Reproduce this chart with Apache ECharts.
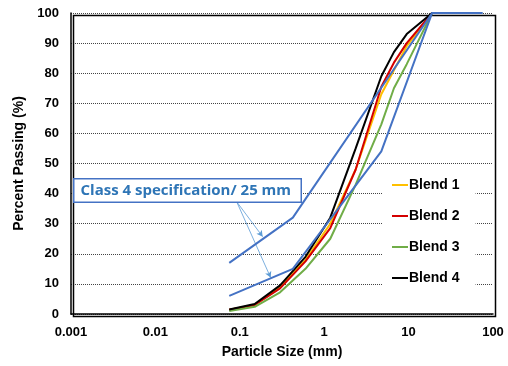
<!DOCTYPE html>
<html>
<head>
<meta charset="utf-8">
<script src="https://cdn.jsdelivr.net/npm/echarts@6/dist/echarts.min.js"></script>
<style>
html,body{margin:0;padding:0;background:#fff;}
#chart{width:508px;height:366px;}
</style>
</head>
<body>
<div id="chart"></div>
<script>
// Sieve sizes (mm)
var sieves = [0.075, 0.15, 0.3, 0.6, 1.18, 2.36, 4.75, 6.7, 9.5, 19];
// Percent passing per blend
var blend1 = [1.4, 3.0, 9.0, 18, 30, 48, 73, 81, 89, 100];
var blend2 = [1.4, 3.0, 8.5, 17.5, 28.5, 48, 75.5, 83.5, 90, 100];
var blend3 = [1.0, 2.4, 7.2, 15, 25, 43, 63, 75, 83, 100];
var blend4 = [1.5, 3.3, 9.5, 19, 32, 55, 79, 87, 93, 100];
// Class 4 specification bands
var specSizes = [0.075, 0.425, 4.75, 19, 75];
var specUpperSizes = [0.075, 0.425, 19, 75];
var specUpper = [17, 32, 100, 100];
var specLower = [6, 15, 54, 100, 100];
// Axis tick labels
var xTicks = ['0.001', '0.01', '0.1', '1', '10', '100'];
var blendNames = ['Blend 1', 'Blend 2', 'Blend 3', 'Blend 4'];
// Annotation leader lines (data coordinates)
var leaderStart = [0.0918, 37.3];
var leaderEnds = [[0.1866, 25.7], [0.232, 12.1]];

function pairs(xs, ys) { return xs.map(function (x, i) { return [x, ys[i]]; }); }

var chart = echarts.init(document.getElementById('chart'), null, {renderer: 'canvas'});
var font = 'Liberation Sans, Arial, sans-serif';
var blendColors = ['#FFC000', '#D40000', '#70AD47', '#000000'];
var blendData = [blend1, blend2, blend3, blend4];

var series = blendData.map(function (d, i) {
  return {
    name: blendNames[i], type: 'line', data: pairs(sieves, d),
    symbol: 'none', lineStyle: {width: 2, color: blendColors[i]},
    itemStyle: {color: blendColors[i]}, z: 3 + i, animation: false
  };
});
series.push({
  name: 'Upper', type: 'line', data: pairs(specUpperSizes, specUpper), symbol: 'none',
  lineStyle: {width: 2, color: '#4472C4'}, z: 8, animation: false,
  markLine: {
    silent: true, animation: false, symbol: ['none', 'arrow'], symbolSize: [5, 6],
    label: {show: false},
    lineStyle: {color: '#5B9BD5', width: 0.8, type: 'solid'},
    data: leaderEnds.map(function (e) { return [{coord: leaderStart}, {coord: e}]; })
  }
});
series.push({
  name: 'Lower', type: 'line', data: pairs(specSizes, specLower), symbol: 'none',
  lineStyle: {width: 2, color: '#4472C4'}, z: 8, animation: false
});

chart.setOption({
  backgroundColor: '#fff',
  animation: false,
  grid: {left: 71, right: 15, top: 13, bottom: 52, containLabel: false},
  legend: {
    data: blendNames, orient: 'vertical', left: 382, top: 170,
    backgroundColor: '#fff', padding: [8, 16, 10, 10], itemGap: 17,
    itemWidth: 16, itemHeight: 2, icon: 'rect',
    textStyle: {fontFamily: font, fontWeight: 'bold', fontSize: 14, color: '#000', padding: [0, 0, 0, -4]}
  },
  xAxis: {
    type: 'log', logBase: 10, min: 0.001, max: 100,
    name: 'Particle Size (mm)', nameLocation: 'middle', nameGap: 31,
    nameTextStyle: {fontFamily: font, fontWeight: 'bold', fontSize: 14, color: '#000'},
    axisLine: {show: true, lineStyle: {color: '#000', width: 1.5}},
    axisTick: {show: false},
    splitLine: {show: false},
    minorTick: {show: false},
    axisLabel: {
      fontFamily: font, fontWeight: 'bold', fontSize: 13, color: '#000', margin: 12,
      formatter: function (v) {
        var idx = Math.round(Math.log10(v)) + 3;
        return xTicks[idx] !== undefined ? xTicks[idx] : '';
      }
    }
  },
  yAxis: {
    type: 'value', min: 0, max: 100, interval: 10,
    name: 'Percent Passing (%)', nameLocation: 'middle', nameGap: 36, nameRotate: 90,
    nameTextStyle: {fontFamily: font, fontWeight: 'bold', fontSize: 14, color: '#000'},
    axisLine: {show: true, lineStyle: {color: '#000', width: 1.5}},
    axisTick: {show: false},
    splitLine: {show: true, lineStyle: {color: '#444', width: 1, type: [1, 1]}},
    axisLabel: {fontFamily: font, fontWeight: 'bold', fontSize: 13, color: '#000', margin: 12}
  },
  graphic: [
    {type: 'rect', left: 71, top: 13, shape: {width: 422, height: 301},
     style: {fill: 'none', stroke: '#000', lineWidth: 1.5}, silent: true, z: 2},
    {type: 'text', left: 73, top: 178, z: 101, zlevel: 0, silent: true,
     style: {text: 'Class 4 specification/ 25 mm', fill: '#2E75B6',
             fontSize: 15, fontWeight: 'bold', fontFamily: '"Open Sans", "Noto Sans", sans-serif',
             backgroundColor: '#ffffff', borderColor: '#4472C4', borderWidth: 1.5,
             width: 214, height: 15, padding: [3, 6, 4, 6], verticalAlign: 'top', lineHeight: 16}}
  ],
  series: series
});
</script>
</body>
</html>
